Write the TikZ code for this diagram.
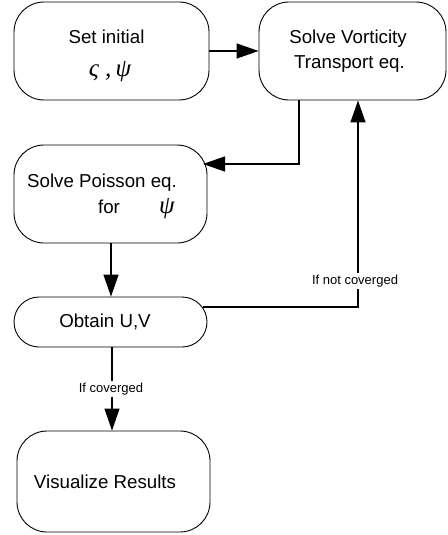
\documentclass[tikz,border=0pt]{standalone}
\usepackage{fontspec}
\setmainfont{Liberation Sans}
\newfontfamily\grk{Liberation Serif}
\usetikzlibrary{arrows.meta}
\begin{document}
\begin{tikzpicture}[x=1pt,y=-1pt,
 box/.style={draw,line width=0.9pt,rounded corners=#1,inner sep=0pt},
 box/.default=30pt,
 txt/.style={font=\fontsize{18.7}{22}\selectfont,inner sep=0pt,anchor=base},
 greek/.style={font=\grk\itshape\fontsize{25}{28}\selectfont,inner sep=0pt,anchor=base},
 small/.style={font=\fontsize{13}{15}\selectfont,fill=white,inner sep=1.5pt},
 conn/.style={line width=1.3pt,-{Triangle[length=22pt,width=15pt]}}]
\useasboundingbox (0,0) rectangle (447,535);
% boxes
\node[box,minimum width=195pt,minimum height=98pt] (b1) at (111.5,51) {};
\node[box,minimum width=187pt,minimum height=98pt] (b2) at (352.5,51) {};
\node[box,minimum width=193pt,minimum height=98pt] (b3) at (110.5,194) {};
\node[box=25pt,minimum width=193pt,minimum height=50pt] (b4) at (110.5,322) {};
\node[box,minimum width=193pt,minimum height=101pt] (b5) at (113.5,481.5) {};
% texts
\node[txt] (t1a) at (106.5,44) {Set initial};
\node[greek] (t1b) at (110,76) {ς ,\,ψ};
\node[txt] (t2a) at (348,44) {Solve Vorticity};
\node[txt] (t2b) at (349.5,68) {Transport eq.};
\node[txt] (t3a) at (102,187) {Solve Poisson eq.};
\node[txt] (t3b) at (109,213) {for};
\node[greek] (t3c) at (167,213) {ψ};
\node[txt] (t4) at (105,327) {Obtain U,V};
\node[txt] (t5) at (105,488) {Visualize Results};
% connectors
\draw[conn] (b1) -- (b2);
\coordinate (c2) at (299,164);
\coordinate (e3) at (203,164);
\draw[conn] (c2 |- b2.south) -- (c2) -- (e3);
\draw[conn] (b3.south -| 111,0) -- (b4.north -| 111,0);
\coordinate (s4) at (203,307);
\coordinate (c4) at (358,307);
\draw[conn] (s4) -- (c4) -- (c4 |- b2.south);
\draw[conn] (b4.south -| 112,0) -- (b5.north -| 112,0);
% labels
\node[small] (l1) at (355,281) {If not coverged};
\node[small] (l2) at (111,389) {If coverged};
\end{tikzpicture}
\end{document}
